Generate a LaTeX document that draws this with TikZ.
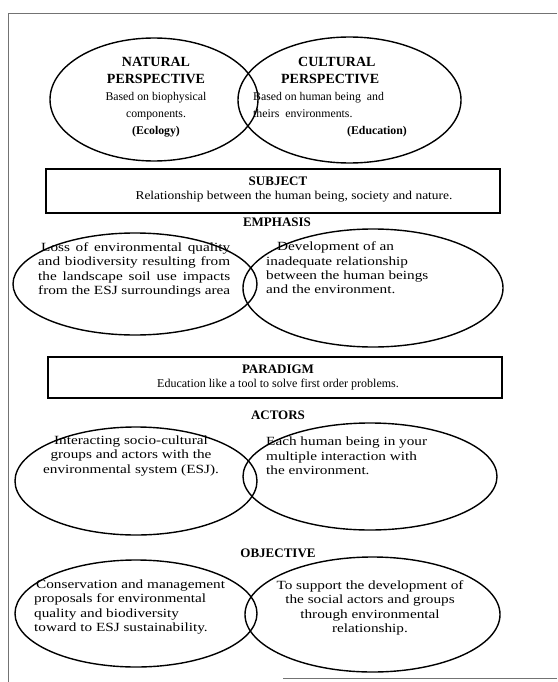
\documentclass[tikz,border=0pt]{standalone}
\usepackage{fontspec}
\setmainfont{Liberation Serif}
\newfontfamily\widefont{Liberation Serif}[FakeStretch=1.12]
\newfontfamily\ovalfont{Liberation Serif}[FakeStretch=1.22]
\usetikzlibrary{shapes.geometric}
\newcommand{\fullline}[1]{\makebox[192pt][s]{#1}}
\begin{document}
\begin{tikzpicture}[x=1pt,y=-1pt,
  oval/.style={draw, ellipse, line width=1.4pt, inner sep=0pt},
  panel/.style={draw, line width=1.2pt, inner sep=0pt},
  head/.style={font=\fontsize{13}{15}\selectfont\bfseries, inner sep=0pt},
  body/.style={font=\ovalfont\fontsize{12.5}{14.4}\selectfont, inner sep=0pt},
  boxbody/.style={font=\widefont\fontsize{12}{14.4}\selectfont, inner sep=0pt},
  plainbody/.style={font=\fontsize{12}{14.4}\selectfont, inner sep=0pt},
  topbody/.style={font=\fontsize{11.8}{17}\selectfont, inner sep=0pt},
  frameline/.style={draw=black!55, line width=0.8pt}]
\useasboundingbox (0,0) rectangle (557,682);

% outer frame
\coordinate (fTL) at (8,13);
\coordinate (fTR) at (557,13);
\coordinate (fBL) at (8,682);
\coordinate (fB1) at (283,678);
\coordinate (fB2) at (557,678);
\draw[frameline] (fTR) -- (fTL) -- (fBL);
\draw[frameline] (fB1) -- (fB2);

% perspectives
\node[oval, minimum width=208pt, minimum height=123pt] (natural) at (154,99.5) {};
\node[oval, minimum width=223pt, minimum height=126pt] (cultural) at (349.5,100) {};
\node[topbody, align=center] (naturalT) at (156,97)
  {\fontsize{14}{17}\selectfont\bfseries NATURAL\\
   \fontsize{14}{17}\selectfont\bfseries PERSPECTIVE\\
   Based on biophysical\\components.\\\bfseries (Ecology)};
\node[topbody, align=left] (culturalT) at (330,97)
  {\hspace*{45pt}\fontsize{14}{17}\selectfont\bfseries CULTURAL\\
   \hspace*{28pt}\fontsize{14}{17}\selectfont\bfseries PERSPECTIVE\\
   Based on human being~ and\\
   theirs~ environments.\\
   \hspace*{94pt}\bfseries(Education)};

% subject
\node[panel, minimum width=454pt, minimum height=44pt] (subject) at (273,191) {};
\node[head] (subjectH) at (278,181) {SUBJECT};
\node[boxbody] (subjectT) at (294,197) {Relationship between the human being, society and nature.};

% emphasis
\node[head] (emphasisH) at (277,222) {EMPHASIS};
\node[oval, minimum width=244pt, minimum height=102pt] (emphL) at (135,284) {};
\node[oval, minimum width=260pt, minimum height=118pt] (emphR) at (373,288) {};
\node[body, align=left, anchor=west] (emphLT) at (38,270)
  {\fullline{\hspace*{3pt}Loss of environmental quality}\\
   \fullline{and biodiversity resulting from}\\
   \fullline{the landscape soil use impacts}\\
   \fullline{from the ESJ surroundings area}};
\node[body, align=left, anchor=west] (emphRT) at (266,268)
  {\hspace*{11pt}Development of an\\
   inadequate relationship\\
   between the human beings\\
   and the environment.};

% paradigm
\node[panel, minimum width=454pt, minimum height=41pt] (paradigm) at (275,377.5) {};
\node[head] (paradigmH) at (278,369) {PARADIGM};
\node[plainbody] (paradigmT) at (278,385) {Education like a tool to solve first order problems.};

% actors
\node[head] (actorsH) at (278,415) {ACTORS};
\node[oval, minimum width=242pt, minimum height=108pt] (actL) at (136,481) {};
\node[oval, minimum width=254pt, minimum height=107pt] (actR) at (370,476.5) {};
\node[body, align=center] (actLT) at (131,456)
  {Interacting socio-cultural\\
   groups and actors with the\\
   environmental system (ESJ).};
\node[body, align=left, anchor=west] (actRT) at (266,456)
  {Each human being in your\\
   multiple interaction with\\
   the environment.};

% objective
\node[head] (objectiveH) at (278,553) {OBJECTIVE};
\node[oval, minimum width=242pt, minimum height=107pt] (objL) at (136,613.5) {};
\node[oval, minimum width=255pt, minimum height=115pt] (objR) at (372.5,614.5) {};
\node[body, align=left, anchor=west] (objLT) at (34,607)
  {\hspace*{2pt}Conservation and management\\
   proposals for environmental\\
   quality and biodiversity\\
   toward to ESJ sustainability.};
\node[body, align=center] (objRT) at (370,608)
  {To support the development of\\
   the social actors and groups\\
   through environmental\\
   relationship.};
\end{tikzpicture}
\end{document}
